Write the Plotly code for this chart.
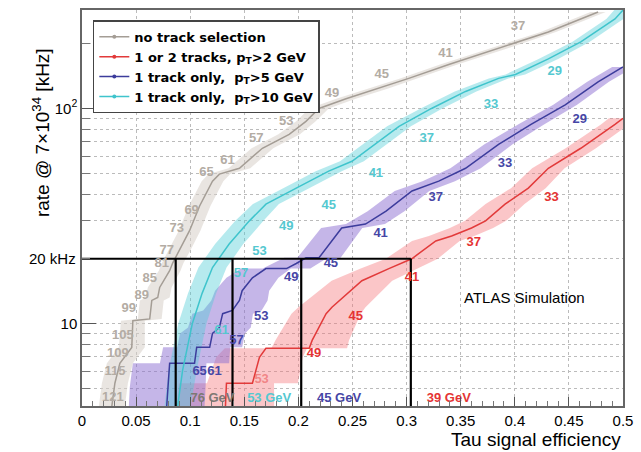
import numpy as np
import plotly.graph_objects as go

# ---------------- data ----------------
grey_x = [0.0276, 0.0304, 0.035, 0.046, 0.047, 0.0626, 0.0645, 0.070, 0.0718, 0.081, 0.0838, 0.090, 0.0994,
          0.1087, 0.1206, 0.127, 0.1455, 0.1667, 0.1915, 0.207, 0.219, 0.244, 0.274, 0.302, 0.339, 0.385, 0.431, 0.477]
grey_y = [4.13, 5.27, 6.53, 7.74, 10.3, 10.5, 12.8, 13.2, 14.7, 17.6, 19.1, 21.8, 27.0,
          35.2, 45.9, 49.5, 52.7, 65.3, 75.8, 87.1, 100, 111, 124, 138, 160, 190, 227, 281]
grey_w = [0.012, 0.012, 0.012, 0.012, 0.011, 0.011, 0.011, 0.011, 0.011, 0.010, 0.010, 0.010, 0.010,
          0.010, 0.010, 0.010, 0.010, 0.010, 0.010, 0.009, 0.009, 0.009, 0.009, 0.008, 0.008, 0.008, 0.007, 0.007]

cyan_x = [0.0884, 0.093, 0.102, 0.111, 0.1206, 0.136, 0.1547, 0.170, 0.198, 0.228, 0.2495, 0.274, 0.293,
          0.323, 0.3545, 0.385, 0.4006, 0.431, 0.461, 0.4926, 0.50]
cyan_y = [4.13, 6.06, 10.0, 13.8, 18.2, 23.4, 30.0, 35.9, 42.6, 51.1, 56.8, 70.4, 82.6,
          100, 120, 138, 144, 170, 204, 261, 287]
cyan_w = [0.012, 0.013, 0.013, 0.013, 0.013, 0.013, 0.013, 0.012, 0.012, 0.012, 0.011, 0.011, 0.011,
          0.010, 0.010, 0.009, 0.009, 0.009, 0.008, 0.008, 0.008]

blue_x = [0.0783, 0.0792, 0.081, 0.104, 0.106, 0.118, 0.1206, 0.127, 0.130, 0.139, 0.1455, 0.148, 0.1575,
          0.170, 0.189, 0.198, 0.207, 0.219, 0.240, 0.262, 0.281, 0.305, 0.3297, 0.3545, 0.385, 0.415,
          0.4466, 0.477, 0.50]
blue_y = [4.13, 5.06, 6.53, 6.53, 7.74, 7.74, 8.99, 9.58, 11.1, 11.5, 12.8, 14.2, 16.3,
          18.0, 18.0, 19.0, 20.2, 20.2, 27.8, 29.0, 33.3, 41.3, 45.9, 52.7, 68.1, 84.3,
          104, 133, 156]
blue_w = [0.035, 0.035, 0.034, 0.032, 0.031, 0.030, 0.030, 0.029, 0.028, 0.027, 0.026, 0.025, 0.024,
          0.023, 0.022, 0.021, 0.020, 0.020, 0.019, 0.018, 0.017, 0.016, 0.015, 0.014, 0.013, 0.012,
          0.011, 0.010, 0.010]

red_x = [0.1326, 0.1335, 0.1575, 0.164, 0.170, 0.210, 0.2127, 0.2256, 0.231, 0.2587, 0.2836, 0.3048,
         0.327, 0.3416, 0.360, 0.373, 0.391, 0.4125, 0.431, 0.461, 0.4926, 0.50]
red_y = [4.13, 5.27, 5.27, 6.96, 7.66, 7.66, 8.34, 11.1, 11.9, 15.8, 18.0, 20.0,
         24.2, 25.5, 27.8, 30.0, 35.9, 42.6, 52.7, 65.3, 84.3, 90]
red_w = [0.045, 0.044, 0.042, 0.040, 0.038, 0.035, 0.034, 0.032, 0.031, 0.028, 0.026, 0.024,
         0.022, 0.021, 0.020, 0.019, 0.018, 0.016, 0.015, 0.014, 0.013, 0.013]

# threshold labels (text, efficiency, rate)
grey_lab = ["121", "115", "109", "105", "99", "89", "85", "81", "77", "73", "69", "65", "61", "57", "53", "49", "45", "41", "37"]
grey_lx = [0.0285, 0.0304, 0.0331, 0.0378, 0.0433, 0.0552, 0.0626, 0.0737, 0.0783, 0.0875, 0.1013, 0.115,
           0.1344, 0.161, 0.1888, 0.231, 0.277, 0.336, 0.403]
grey_ly = [4.50, 5.93, 7.26, 8.80, 11.7, 13.5, 16.2, 19.0, 21.8, 27.5, 33.3, 50.0, 56.9, 72.6, 87.1, 117, 144, 180, 240]

cyan_lab = ["61", "57", "53", "49", "45", "41", "37", "33", "29"]
cyan_lx = [0.129, 0.147, 0.164, 0.1888, 0.228, 0.2716, 0.3186, 0.378, 0.437]
cyan_ly = [9.29, 17.0, 21.5, 28.1, 35.2, 49.5, 72.6, 104, 148]

blue_lab = ["65", "61", "57", "53", "49", "45", "41", "37", "33", "29"]
blue_lx = [0.1087, 0.1225, 0.1427, 0.1657, 0.1934, 0.230, 0.276, 0.327, 0.391, 0.460]
blue_ly = [5.93, 5.93, 8.34, 10.7, 16.3, 19.0, 26.1, 38.3, 55.1, 88.9]

red_lab = ["53", "49", "45", "41", "37", "33", "29"]
red_lx = [0.166, 0.2145, 0.253, 0.305, 0.362, 0.434, 0.509]
red_ly = [5.45, 7.26, 10.7, 16.3, 23.7, 38.3, 72.6]

gev_lab = ["76 GeV", "53 GeV", "45 GeV", "39 GeV"]
gev_x = [0.1206, 0.173, 0.2376, 0.339]
gev_y = [4.45, 4.45, 4.45, 4.45]

eff_at_20khz = [0.0866, 0.1391, 0.2026, 0.3039]
rate_20khz = 20

names = ["no track selection", "1 or 2 tracks, p<sub>T</sub>>2 GeV",
         "1 track only,  p<sub>T</sub>>5 GeV", "1 track only,  p<sub>T</sub>>10 GeV"]

# ---------------- styles ----------------
C_GREY, B_GREY, T_GREY = "#a49d95", "rgba(215,208,200,0.55)", "#b3aca4"
C_CYAN, B_CYAN, T_CYAN = "#3fc4cc", "rgba(80,205,215,0.42)", "#55c8d0"
C_BLUE, B_BLUE, T_BLUE = "#3c3c9c", "rgba(140,110,210,0.5)", "#4646a6"
C_RED, B_RED, T_RED = "#e23a3a", "rgba(245,120,125,0.42)", "#e53434"
FONT = "Liberation Sans, Arial, sans-serif"

fig = go.Figure()

def band(x, y, w, color):
    x = np.array(x); w = np.array(w)
    xs = list(x - w) + list((x + w)[::-1])
    ys = list(y) + list(y[::-1])
    fig.add_trace(go.Scatter(x=xs, y=ys, fill="toself", fillcolor=color, line=dict(width=0),
                             mode="lines", showlegend=False, hoverinfo="skip"))

band(red_x, red_y, red_w, B_RED)
band(blue_x, blue_y, blue_w, B_BLUE)
band(cyan_x, cyan_y, cyan_w, B_CYAN)
band(grey_x, grey_y, grey_w, B_GREY)

for x, y, c in [(red_x, red_y, C_RED), (blue_x, blue_y, C_BLUE), (cyan_x, cyan_y, C_CYAN), (grey_x, grey_y, C_GREY)]:
    fig.add_trace(go.Scatter(x=x, y=y, mode="lines", line=dict(color=c, width=1.5), showlegend=False))

# black 20 kHz lines
fig.add_trace(go.Scatter(x=[0, eff_at_20khz[-1]], y=[rate_20khz, rate_20khz], mode="lines",
                         line=dict(color="black", width=2), showlegend=False))
for e in eff_at_20khz:
    fig.add_trace(go.Scatter(x=[e, e], y=[3.5, rate_20khz], mode="lines",
                             line=dict(color="black", width=2.2), showlegend=False))

# labels
red_cols = ["rgba(229,52,52,0.45)"] + [T_RED] * (len(red_lab) - 1)
for lab, lx, ly, c in [(grey_lab, grey_lx, grey_ly, T_GREY), (cyan_lab, cyan_lx, cyan_ly, T_CYAN),
                       (blue_lab, blue_lx, blue_ly, T_BLUE), (red_lab, red_lx, red_ly, red_cols)]:
    fig.add_trace(go.Scatter(x=lx, y=ly, mode="text", text=["<b>%s</b>" % t for t in lab],
                             textfont=dict(family=FONT, size=13, color=c), showlegend=False,
                             cliponaxis=False))

fig.add_trace(go.Scatter(x=gev_x, y=gev_y, mode="text", text=["<b>%s</b>" % t for t in gev_lab],
                         textfont=dict(family=FONT, size=13, color=["#7d7873", T_CYAN, T_BLUE, T_RED]),
                         showlegend=False, cliponaxis=False))

# legend entries
for n, c in zip(names, [C_GREY, C_RED, C_BLUE, C_CYAN]):
    fig.add_trace(go.Scatter(x=[None], y=[None], mode="lines+markers", name="<b>%s</b>" % n,
                             line=dict(color=c, width=1.5), marker=dict(color=c, size=4)))

fig.add_annotation(x=0.409, y=np.log10(13.2), text="ATLAS Simulation", showarrow=False,
                   font=dict(family=FONT, size=15, color="black"))
fig.add_annotation(xref="paper", x=-0.008, y=np.log10(rate_20khz), text="20 kHz", showarrow=False,
                   xanchor="right", yanchor="middle", font=dict(family=FONT, size=15, color="black"))
fig.add_annotation(xref="paper", yref="paper", x=1.0, y=-0.085, text="Tau signal efficiency",
                   showarrow=False, xanchor="right", yanchor="middle",
                   font=dict(family=FONT, size=19, color="black"))
fig.add_annotation(xref="paper", yref="paper", x=-0.077, y=0.69,
                   text="rate @ 7×10<sup>34</sup> [kHz]", showarrow=False, textangle=-90,
                   xanchor="center", yanchor="middle",
                   font=dict(family=FONT, size=19, color="black"))

minor_vals = [v * 10 ** d for d in (0, 1, 2) for v in range(2, 10)]

fig.update_layout(
    width=641, height=452,
    margin=dict(l=82, r=16, t=8, b=46),
    plot_bgcolor="white", paper_bgcolor="white",
    font=dict(family=FONT, size=15, color="black"),
    showlegend=True,
    legend=dict(x=0.02, y=0.974, xanchor="left", yanchor="top", bgcolor="white",
                bordercolor="#444", borderwidth=1.5,
                font=dict(family="DejaVu Sans, sans-serif", size=13, color="black"),
                tracegroupgap=0, itemwidth=30),
    xaxis=dict(range=[0, 0.5], tickvals=[0, 0.05, 0.1, 0.15, 0.2, 0.25, 0.3, 0.35, 0.4, 0.45, 0.5],
               ticktext=["0", "0.05", "0.1", "0.15", "0.2", "0.25", "0.3", "0.35", "0.4", "0.45", "0.5"],
               ticks="inside", ticklen=9, tickcolor="#555", showline=True, linecolor="#666", linewidth=1.5,
               mirror=True, showgrid=True, gridcolor="#bbb", griddash="dot", gridwidth=1, zeroline=False,
               minor=dict(dtick=0.01, ticks="inside", ticklen=5, tickcolor="#777", showgrid=False)),
    yaxis=dict(type="log", range=[0.616, 2.458], tickvals=[10, 100], ticktext=["10", "10<sup>2</sup>"],
               ticks="inside", ticklen=14, tickcolor="#555", showline=True, linecolor="#666", linewidth=1.5,
               mirror=True, showgrid=True, gridcolor="#bbb", griddash="dot", gridwidth=1, zeroline=False,
               minor=dict(tickvals=minor_vals, ticks="inside", ticklen=8, tickcolor="#777",
                          showgrid=True, gridcolor="#bbb", griddash="dot", gridwidth=1)),
)

fig.write_html("out.html")
